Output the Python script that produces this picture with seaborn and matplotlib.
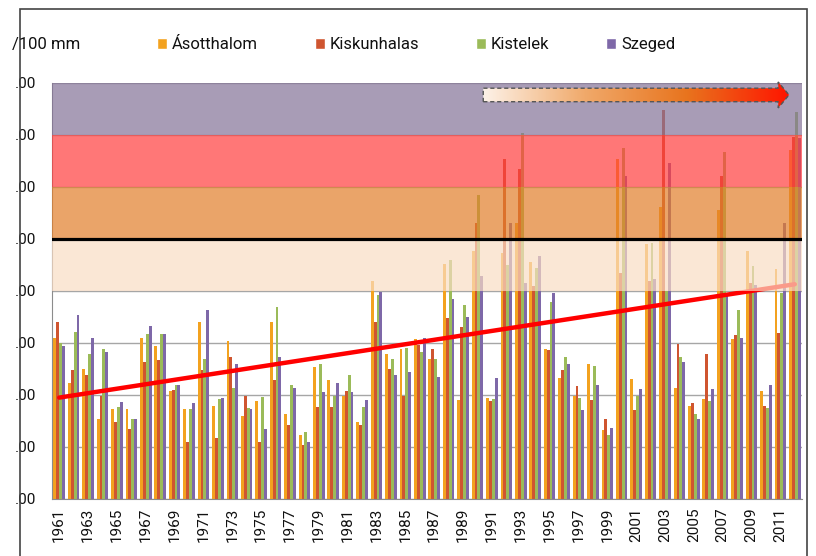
import numpy as np
import pandas as pd
import seaborn as sns
import matplotlib.pyplot as plt
from matplotlib.patches import Patch, Polygon, Rectangle
from matplotlib.colors import LinearSegmentedColormap

# data (mm/100 mm, 1961-2012)
years = list(range(1961, 2013))
stations = ['Ásotthalom', 'Kiskunhalas', 'Kistelek', 'Szeged']
asotthalom = [3.10, 2.24, 2.50, 1.54, 1.73, 1.73, 3.10, 2.95, 2.07, 1.73,
              3.40, 1.78, 3.03, 1.59, 1.88, 3.40, 1.64, 1.24, 2.54, 2.29,
              1.99, 1.49, 4.19, 2.79, 2.88, 3.08, 2.69, 4.51, 1.90, 4.76,
              1.94, 4.73, 5.31, 4.55, 2.88, 2.33, 1.99, 2.60, 1.32, 6.53,
              2.31, 4.90, 5.62, 2.13, 1.78, 1.92, 5.56, 3.08, 4.76, 2.07,
              4.42, 6.72]
kiskunhalas = [3.40, 2.49, 2.39, 1.99, 1.49, 1.35, 2.63, 2.68, 2.10, 1.09,
               2.49, 1.17, 2.74, 1.99, 1.09, 2.29, 1.43, 1.03, 1.77, 1.77,
               2.07, 1.43, 3.40, 2.50, 1.99, 2.97, 2.88, 3.48, 3.31, 5.31,
               1.88, 6.53, 6.35, 4.09, 2.87, 2.49, 2.17, 1.91, 1.53, 4.35,
               1.72, 4.19, 7.48, 2.99, 1.85, 2.79, 6.22, 3.16, 4.15, 1.79,
               3.19, 6.97]
kistelek = [3.00, 3.22, 2.78, 2.88, 1.77, 1.54, 3.18, 3.18, 2.20, 1.73,
            2.69, 1.92, 2.13, 1.75, 1.97, 3.69, 2.20, 1.28, 2.60, 1.99,
            2.39, 1.77, 3.93, 2.69, 2.90, 2.82, 2.69, 4.60, 3.74, 5.85,
            1.92, 4.50, 7.04, 4.45, 3.78, 2.73, 1.94, 2.55, 1.24, 6.75,
            1.99, 4.92, 4.00, 2.74, 1.64, 1.88, 6.67, 3.63, 4.49, 1.75,
            3.96, 7.45]
szeged = [2.95, 3.54, 3.10, 2.82, 1.86, 1.54, 3.33, 3.18, 2.20, 1.85,
          3.64, 1.94, 2.60, 1.73, 1.35, 2.74, 2.13, 1.09, 2.05, 2.24,
          2.05, 1.90, 3.99, 2.39, 2.44, 3.10, 2.35, 3.85, 3.50, 4.29,
          2.33, 5.31, 4.15, 4.68, 3.96, 2.60, 1.72, 2.20, 1.37, 6.22,
          2.12, 4.23, 6.46, 2.63, 1.54, 2.12, 3.96, 3.10, 4.12, 2.20,
          5.31, 6.95]
trend_start, trend_end = 1.95, 4.13
threshold = 5
bands = [(4, 5), (5, 6), (6, 7), (7, 8)]
y_ticks = [0, 1, 2, 3, 4, 5, 6, 7, 8]
y_labels = ['.00'] * len(y_ticks)
unit_text = '/100 mm'

colors = ['#F3A21F', '#CF5530', '#9BBB59', '#7E68A8']
band_colors = ['#F9DDC4', '#E27E2A', '#FF3E3E', '#847398']

df = pd.DataFrame({'year': years, 'Ásotthalom': asotthalom, 'Kiskunhalas': kiskunhalas,
                   'Kistelek': kistelek, 'Szeged': szeged})
df = df.melt(id_vars='year', var_name='station', value_name='value')

sns.set_style('white')
plt.rcParams['font.family'] = ['Roboto', 'DejaVu Sans']

fig = plt.figure(figsize=(8.16, 5.56), dpi=100)
ax = fig.add_axes([52 / 816, 57 / 556, 750 / 816, 416 / 556])

sns.barplot(data=df, x='year', y='value', hue='station', hue_order=stations,
            palette=dict(zip(stations, colors)), width=0.8, saturation=1,
            linewidth=0, legend=False, ax=ax, zorder=2)

# trend line and coloured bands laid over the bars
n = len(years)
ax.plot([0, n - 1], [trend_start, trend_end], color='#FF0000', lw=3.2, zorder=3,
        solid_capstyle='round')
for (lo, hi), c in zip(bands, band_colors):
    ax.axhspan(lo, hi, color=c, alpha=0.7, lw=0, zorder=4)
ax.axhline(threshold, color='black', lw=2.3, zorder=5)

# gradient arrow in the top right
x0, xh, x1 = 29.4, 49.85, 50.6
verts = [(x0, 7.64), (xh, 7.64), (xh, 7.52), (x1, 7.77), (xh, 8.02), (xh, 7.9), (x0, 7.9)]
arrow = Polygon(verts, closed=True, facecolor='none', edgecolor='#555555',
                ls=(0, (3, 2)), lw=1, zorder=7, clip_on=False)
ax.add_patch(arrow)
cmap = LinearSegmentedColormap.from_list('arr', ['#FDF2E8', '#F0A96A', '#E8741E', '#FF1500'])
im = ax.imshow(np.linspace(0, 1, 256).reshape(1, -1), cmap=cmap, aspect='auto',
               extent=[x0, x1, 7.52, 8.02], zorder=6)
im.set_clip_path(arrow)

ax.set_xlim(-0.5, n - 0.5)
ax.set_ylim(0, 8)
ax.yaxis.grid(True, color='#A6A6A6', lw=1)
ax.set_axisbelow(True)
ax.set_xlabel('')
ax.set_ylabel('')
for s in ['top', 'right']:
    ax.spines[s].set_visible(False)
for s in ['left', 'bottom']:
    ax.spines[s].set_color('#8C8C8C')

ax.set_yticks(y_ticks)
ax.set_yticklabels(y_labels)
ax.set_xticks(range(0, n, 2))
ax.set_xticklabels([str(y) for y in years[::2]], rotation=90)
ax.set_xticks(np.arange(-0.5, n, 1), minor=True)
ax.tick_params(axis='y', length=5, color='#8C8C8C', pad=6, labelsize=11, labelcolor='#111111')
ax.tick_params(axis='x', which='major', length=0, pad=6, labelsize=11, labelcolor='#111111')
ax.tick_params(axis='x', which='minor', length=5, color='#8C8C8C')

# legend row
fig.text(12 / 816, 1 - 45 / 556, unit_text, fontsize=12, va='center', color='#111111')
handles = [Patch(facecolor=c) for c in colors]
fig.legend(handles, stations, loc='center left', bbox_to_anchor=(157 / 816, 1 - 45 / 556),
           ncol=4, frameon=False, handlelength=0.6, handleheight=0.6, handletextpad=0.3,
           columnspacing=3.4, fontsize=12, borderaxespad=0, borderpad=0,
           labelcolor='#111111')

# chart frame
fig.add_artist(Rectangle((20 / 816, -0.05), 787 / 816, 1.05 - 9 / 556, transform=fig.transFigure,
                         fill=False, edgecolor='#444444', lw=1.2))

fig.savefig('out.png', dpi=100)
